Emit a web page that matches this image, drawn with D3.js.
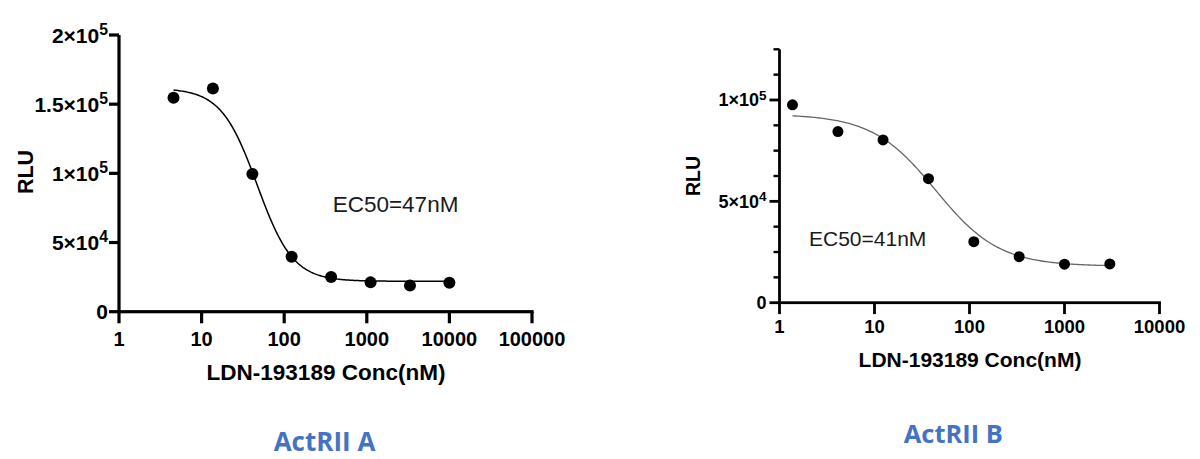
<!DOCTYPE html>
<html>
<head>
<meta charset="utf-8">
<script src="https://cdn.jsdelivr.net/npm/d3@7"></script>
<style>
  html, body { margin: 0; padding: 0; background: #fff; }
  svg { display: block; }
  text { font-family: "Liberation Sans", Arial, sans-serif; }
  text.title { font-family: "Open Sans", "Noto Sans", sans-serif; }
</style>
</head>
<body>
<svg id="chart" width="1200" height="459"></svg>
<script>
// ---------- DATA ----------
// Panel A (ActRII A)
const concA = [4.57, 13.7, 41.2, 123, 370, 1111, 3333, 10000];
const rluA  = [154600, 161400, 99500, 39700, 25100, 21200, 19000, 21000];
const fitA  = [161500, 22000, 47, 2.0];          // top, bottom, EC50, Hill
const xTicksA = [1, 10, 100, 1000, 10000, 100000];
const xTickLabelsA = ["1", "10", "100", "1000", "10000", "100000"];
const yTicksA = [0, 50000, 100000, 150000, 200000];
const yTickLabelsA = [["0", ""], ["5×10", "4"], ["1×10", "5"], ["1.5×10", "5"], ["2×10", "5"]];
const ec50TextA = "EC50=47nM";
const titleA = "ActRII A";

// Panel B (ActRII B)
const concB = [1.37, 4.12, 12.3, 37, 111, 333, 1000, 3000];
const rluB  = [97600, 84400, 80300, 61200, 30100, 22700, 19000, 19100];
const fitB  = [93000, 18000, 44, 1.3];
const xTicksB = [1, 10, 100, 1000, 10000];
const xTickLabelsB = ["1", "10", "100", "1000", "10000"];
const yTicksB = [0, 50000, 100000];
const yMinorTicksB = [12500, 25000, 37500, 62500, 75000, 87500, 112500, 125000];
const yTickLabelsB = [["0", ""], ["5×10", "4"], ["1×10", "5"]];
const ec50TextB = "EC50=41nM";
const titleB = "ActRII B";

const xLabel = "LDN-193189 Conc(nM)";
const yLabel = "RLU";

// ---------- DRAW ----------
const svg = d3.select("#chart");
svg.append("rect").attr("width", 1200).attr("height", 459).attr("fill", "#fff");

function fourPL(p, x) {
  const [top, bottom, ec50, hill] = p;
  return bottom + (top - bottom) / (1 + Math.pow(x / ec50, hill));
}

function panel(cfg) {
  const x = d3.scaleLog().domain(cfg.xDomain).range(cfg.xRange);
  const y = d3.scaleLinear().domain(cfg.yDomain).range(cfg.yRange);
  const g = svg.append("g");
  const w = cfg.axisW, h = w / 2;
  const x0 = x(cfg.xDomain[0]), y0 = y(cfg.yDomain[0]);

  // Axis lines (filled rectangles)
  g.append("rect").attr("x", x0 - h).attr("y", y(cfg.yDomain[1]))
    .attr("width", w).attr("height", y0 - y(cfg.yDomain[1]) + h).attr("fill", "#000");
  g.append("rect").attr("x", x0 - h).attr("y", y0 - h)
    .attr("width", x(cfg.xDomain[1]) - x0 + h + h).attr("height", w).attr("fill", "#000");

  // X ticks + labels
  g.selectAll("rect.xt").data(cfg.xTicks).join("rect").attr("class", "xt")
    .attr("x", d => x(d) - h).attr("y", y0).attr("width", w).attr("height", cfg.tickLen + h)
    .attr("fill", "#000");
  g.selectAll("text.xl").data(cfg.xTicks).join("text").attr("class", "xl")
    .attr("x", d => x(d)).attr("y", y0 + cfg.xTickBase)
    .attr("text-anchor", "middle").attr("font-weight", "bold")
    .attr("font-size", cfg.xTickFont).attr("fill", "#000")
    .text((d, i) => cfg.xTickLabels[i]);

  // Y minor ticks
  if (cfg.yMinor) {
    g.selectAll("rect.ym").data(cfg.yMinor).join("rect").attr("class", "ym")
      .attr("x", x0 - cfg.minorLen).attr("y", d => y(d) - h * 0.85)
      .attr("width", cfg.minorLen).attr("height", w * 0.85).attr("fill", "#000");
  }
  // Y major ticks + labels
  g.selectAll("rect.yt").data(cfg.yTicks).join("rect").attr("class", "yt")
    .attr("x", x0 - cfg.tickLen).attr("y", d => y(d) - h)
    .attr("width", cfg.tickLen).attr("height", w).attr("fill", "#000");
  g.selectAll("text.yl").data(cfg.yTicks).join("text").attr("class", "yl")
    .attr("x", x0 + cfg.yTickX).attr("y", d => y(d)).attr("dy", "0.36em")
    .attr("text-anchor", "end").attr("font-weight", "bold")
    .attr("font-size", cfg.yTickFont).attr("fill", "#000")
    .each(function (d, i) {
      const lab = cfg.yTickLabels[i];
      const t = d3.select(this);
      t.append("tspan").text(lab[0]);
      if (lab[1]) {
        t.append("tspan").attr("font-size", cfg.yTickFont * 0.75)
          .attr("dy", -cfg.yTickFont * 0.38).text(lab[1]);
      }
    });

  // Fitted curve
  const c0 = cfg.conc[0], c1 = cfg.conc[cfg.conc.length - 1];
  const curveX = d3.range(0, 201).map(i => Math.pow(10, Math.log10(c0) + (Math.log10(c1) - Math.log10(c0)) * i / 200));
  g.append("path")
    .datum(curveX)
    .attr("fill", "none").attr("stroke", cfg.curveColor).attr("stroke-width", cfg.curveW)
    .attr("d", d3.line().x(d => x(d)).y(d => y(fourPL(cfg.fit, d))));

  // Points
  g.selectAll("circle.pt").data(cfg.conc).join("circle")
    .attr("class", "pt")
    .attr("cx", d => x(d)).attr("cy", (d, i) => y(cfg.rlu[i]))
    .attr("r", cfg.r).attr("fill", "#000");

  // EC50 text
  g.append("text").attr("x", cfg.ecPos[0]).attr("y", cfg.ecPos[1])
    .attr("font-size", cfg.ecFont).attr("fill", "#1a1a1a").text(cfg.ecText);

  // Axis labels
  g.append("text").attr("x", cfg.xLabPos[0]).attr("y", cfg.xLabPos[1])
    .attr("text-anchor", "middle").attr("font-weight", "bold")
    .attr("font-size", cfg.xLabFont).attr("fill", "#000").text(xLabel);
  g.append("text")
    .attr("transform", `translate(${cfg.yLabPos[0]},${cfg.yLabPos[1]}) rotate(-90)`)
    .attr("text-anchor", "middle").attr("dy", "0.36em").attr("font-weight", "bold")
    .attr("font-size", cfg.yLabFont).attr("fill", "#000").text(yLabel);

  // Title
  g.append("text").attr("class", "title").attr("x", cfg.titlePos[0]).attr("y", cfg.titlePos[1])
    .attr("text-anchor", "middle").attr("font-weight", "bold")
    .attr("font-size", cfg.titleFont).attr("fill", "#4472C4").text(cfg.title);
}

panel({
  conc: concA, rlu: rluA, fit: fitA,
  xDomain: [1, 100000], xRange: [119, 532],
  yDomain: [0, 200000], yRange: [311.7, 35],
  xTicks: xTicksA, xTickLabels: xTickLabelsA,
  yTicks: yTicksA, yTickLabels: yTickLabelsA,
  tickLen: 10, axisW: 3.2, xTickFont: 20, xTickBase: 34.5,
  yTickFont: 21, yTickX: -11,
  curveColor: "#000", curveW: 1.5, r: 6,
  ecText: ec50TextA, ecPos: [332.7, 212.3], ecFont: 22.5,
  xLabPos: [326, 380], xLabFont: 22.5,
  yLabPos: [25, 172], yLabFont: 21.5,
  title: titleA, titlePos: [324.5, 451], titleFont: 26
});

panel({
  conc: concB, rlu: rluB, fit: fitB,
  xDomain: [1, 10000], xRange: [779.5, 1159.5],
  yDomain: [0, 125000], yRange: [302.7, 49.3],
  xTicks: xTicksB, xTickLabels: xTickLabelsB,
  yTicks: yTicksB, yTickLabels: yTickLabelsB, yMinor: yMinorTicksB, minorLen: 6,
  tickLen: 10, axisW: 2.8, xTickFont: 18.5, xTickBase: 30.6,
  yTickFont: 18, yTickX: -13,
  curveColor: "#666", curveW: 1.3, r: 5.5,
  ecText: ec50TextB, ecPos: [809, 245.5], ecFont: 21,
  xLabPos: [970, 366.7], xLabFont: 21,
  yLabPos: [693, 176], yLabFont: 19.5,
  title: titleB, titlePos: [953.3, 443.3], titleFont: 25.5
});
</script>
</body>
</html>
